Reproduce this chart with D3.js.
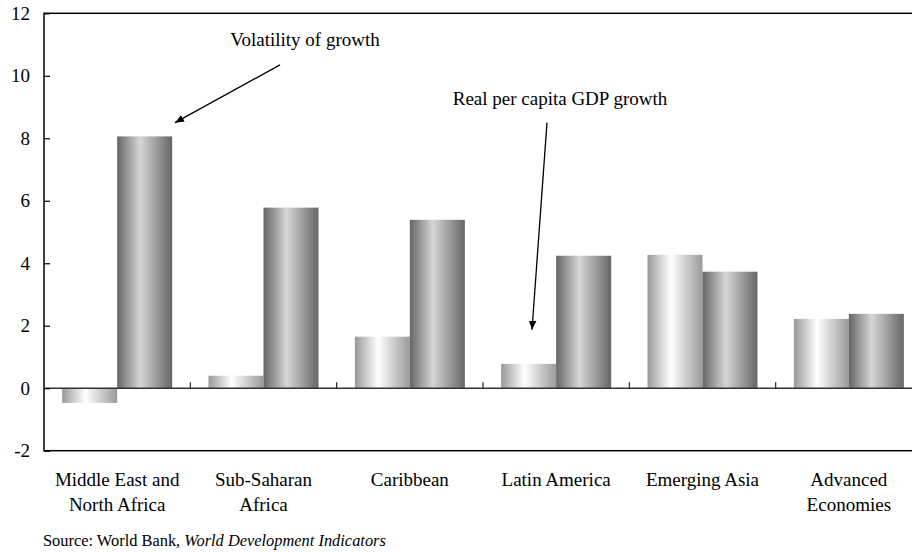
<!DOCTYPE html>
<html>
<head>
<meta charset="utf-8">
<script src="https://cdn.jsdelivr.net/npm/d3@7"></script>
<style>
  html, body { margin: 0; padding: 0; background: #fff; }
  svg { display: block; }
</style>
</head>
<body>
<svg id="chart" width="912" height="552"></svg>
<script>
// Regions shown along the x axis (each label split into lines)
const categories = [
  ["Middle East and", "North Africa"],
  ["Sub-Saharan", "Africa"],
  ["Caribbean"],
  ["Latin America"],
  ["Emerging Asia"],
  ["Advanced", "Economies"]
];
const seriesNames = ["Real per capita GDP growth", "Volatility of growth"];
const gdpGrowth  = [-0.47, 0.40, 1.65, 0.78, 4.27, 2.22];
const volatility = [ 8.06, 5.78, 5.39, 4.24, 3.73, 2.38];
const yTicks = [-2, 0, 2, 4, 6, 8, 10, 12];
const sourceNote = ["Source: World Bank, ", "World Development Indicators"];

const FONT = '"Liberation Serif", "Times New Roman", Times, serif';
const LABEL_SIZE = 19;
const svg = d3.select("#chart");
const margin = { left: 44, top: 13.3, right: 922, bottom: 450.7 };

const catKeys = categories.map(c => c.join(" "));
const x = d3.scaleBand().domain(catKeys).range([margin.left, margin.right]).padding(0);
const xs = d3.scaleBand().domain(seriesNames).range([0, x.bandwidth()])
  .paddingInner(0).paddingOuter(0.33);
const y = d3.scaleLinear().domain([-2, 12]).range([margin.bottom, margin.top]);

// Horizontal shading for each series
const defs = svg.append("defs");
const gradients = [
  { id: "gLight", stops: [[0, "#999"], [0.42, "#fff"], [1, "#9a9a9a"]] },
  { id: "gDark",  stops: [[0, "#666"], [0.42, "#d6d6d6"], [1, "#666"]] }
];
gradients.forEach(g => {
  const lg = defs.append("linearGradient").attr("id", g.id)
    .attr("x1", "0%").attr("x2", "100%").attr("y1", "0%").attr("y2", "0%");
  g.stops.forEach(s => lg.append("stop").attr("offset", s[0]).attr("stop-color", s[1]));
});
defs.append("marker").attr("id", "arrow")
  .attr("viewBox", "0 0 10 10").attr("refX", 10).attr("refY", 5)
  .attr("markerWidth", 9).attr("markerHeight", 9)
  .attr("markerUnits", "userSpaceOnUse")
  .attr("orient", "auto")
  .append("path").attr("d", "M0,0.8 L10,5 L0,9.2 Z").attr("fill", "#000");

const rows = catKeys.map((k, i) => ({ key: k, values: [gdpGrowth[i], volatility[i]] }));

// Bars
const groups = svg.append("g").selectAll("g").data(rows).join("g")
  .attr("transform", d => `translate(${x(d.key)},0)`);
groups.selectAll("rect")
  .data(d => d.values.map((v, j) => ({ name: seriesNames[j], v, j })))
  .join("rect")
  .attr("x", d => xs(d.name))
  .attr("width", xs.bandwidth())
  .attr("y", d => y(Math.max(0, d.v)))
  .attr("height", d => Math.abs(y(d.v) - y(0)))
  .attr("fill", d => d.j === 0 ? "url(#gLight)" : "url(#gDark)");

// Zero line
svg.append("line")
  .attr("x1", margin.left).attr("x2", margin.right)
  .attr("y1", y(0)).attr("y2", y(0))
  .attr("stroke", "#333").attr("stroke-width", 1.6);

// Category boundary ticks on the zero line
svg.append("g").selectAll("line").data(catKeys.slice(1)).join("line")
  .attr("x1", d => x(d)).attr("x2", d => x(d))
  .attr("y1", y(0)).attr("y2", y(0) - 6)
  .attr("stroke", "#222").attr("stroke-width", 1.2);

// Frame
svg.append("rect")
  .attr("x", margin.left).attr("y", margin.top)
  .attr("width", margin.right - margin.left).attr("height", margin.bottom - margin.top)
  .attr("fill", "none").attr("stroke", "#000").attr("stroke-width", 1.5);

// Y axis
const yAxis = d3.axisLeft(y).tickValues(yTicks).tickSize(-6).tickPadding(14).tickFormat(d => String(d));
const ya = svg.append("g").attr("transform", `translate(${margin.left},0)`).call(yAxis);
ya.select(".domain").remove();
ya.selectAll(".tick line").attr("stroke", "#000").attr("stroke-width", 1.2);
ya.selectAll(".tick text")
  .style("font-family", FONT).style("font-size", LABEL_SIZE + "px").attr("fill", "#000");

// Category labels
const labels = svg.append("g").selectAll("text").data(categories).join("text")
  .attr("x", (d, i) => x(catKeys[i]) + x.bandwidth() / 2)
  .attr("y", 486)
  .attr("text-anchor", "middle")
  .style("font-family", FONT).style("font-size", LABEL_SIZE + "px").attr("fill", "#000");
labels.selectAll("tspan").data(d => d).join("tspan")
  .attr("x", function () { return this.parentNode.getAttribute("x"); })
  .attr("dy", (d, i) => i === 0 ? 0 : 24.5)
  .text(d => d);

// Annotations with arrows (placed in data space)
const annotations = [
  { text: seriesNames[1], tx: 0, tdx: 261, ty: 10.94,
    from: [0, 236, 10.35], to: [0, 131, 8.5] },
  { text: seriesNames[0], tx: 3, tdx: 77, ty: 9.07,
    from: [3, 64, 8.5], to: [3, 49, 1.87] }
];
annotations.forEach(a => {
  svg.append("text")
    .attr("x", x(catKeys[a.tx]) + a.tdx).attr("y", y(a.ty))
    .attr("text-anchor", "middle")
    .style("font-family", FONT).style("font-size", LABEL_SIZE + "px").attr("fill", "#000")
    .text(a.text);
  svg.append("line")
    .attr("x1", x(catKeys[a.from[0]]) + a.from[1]).attr("y1", y(a.from[2]))
    .attr("x2", x(catKeys[a.to[0]]) + a.to[1]).attr("y2", y(a.to[2]))
    .attr("stroke", "#000").attr("stroke-width", 1.3)
    .attr("marker-end", "url(#arrow)");
});

// Source note
const src = svg.append("text").attr("x", 43).attr("y", 546)
  .style("font-family", FONT).style("font-size", "16.4px").attr("fill", "#000");
src.append("tspan").text(sourceNote[0]);
src.append("tspan").style("font-style", "italic").text(sourceNote[1]);
</script>
</body>
</html>
